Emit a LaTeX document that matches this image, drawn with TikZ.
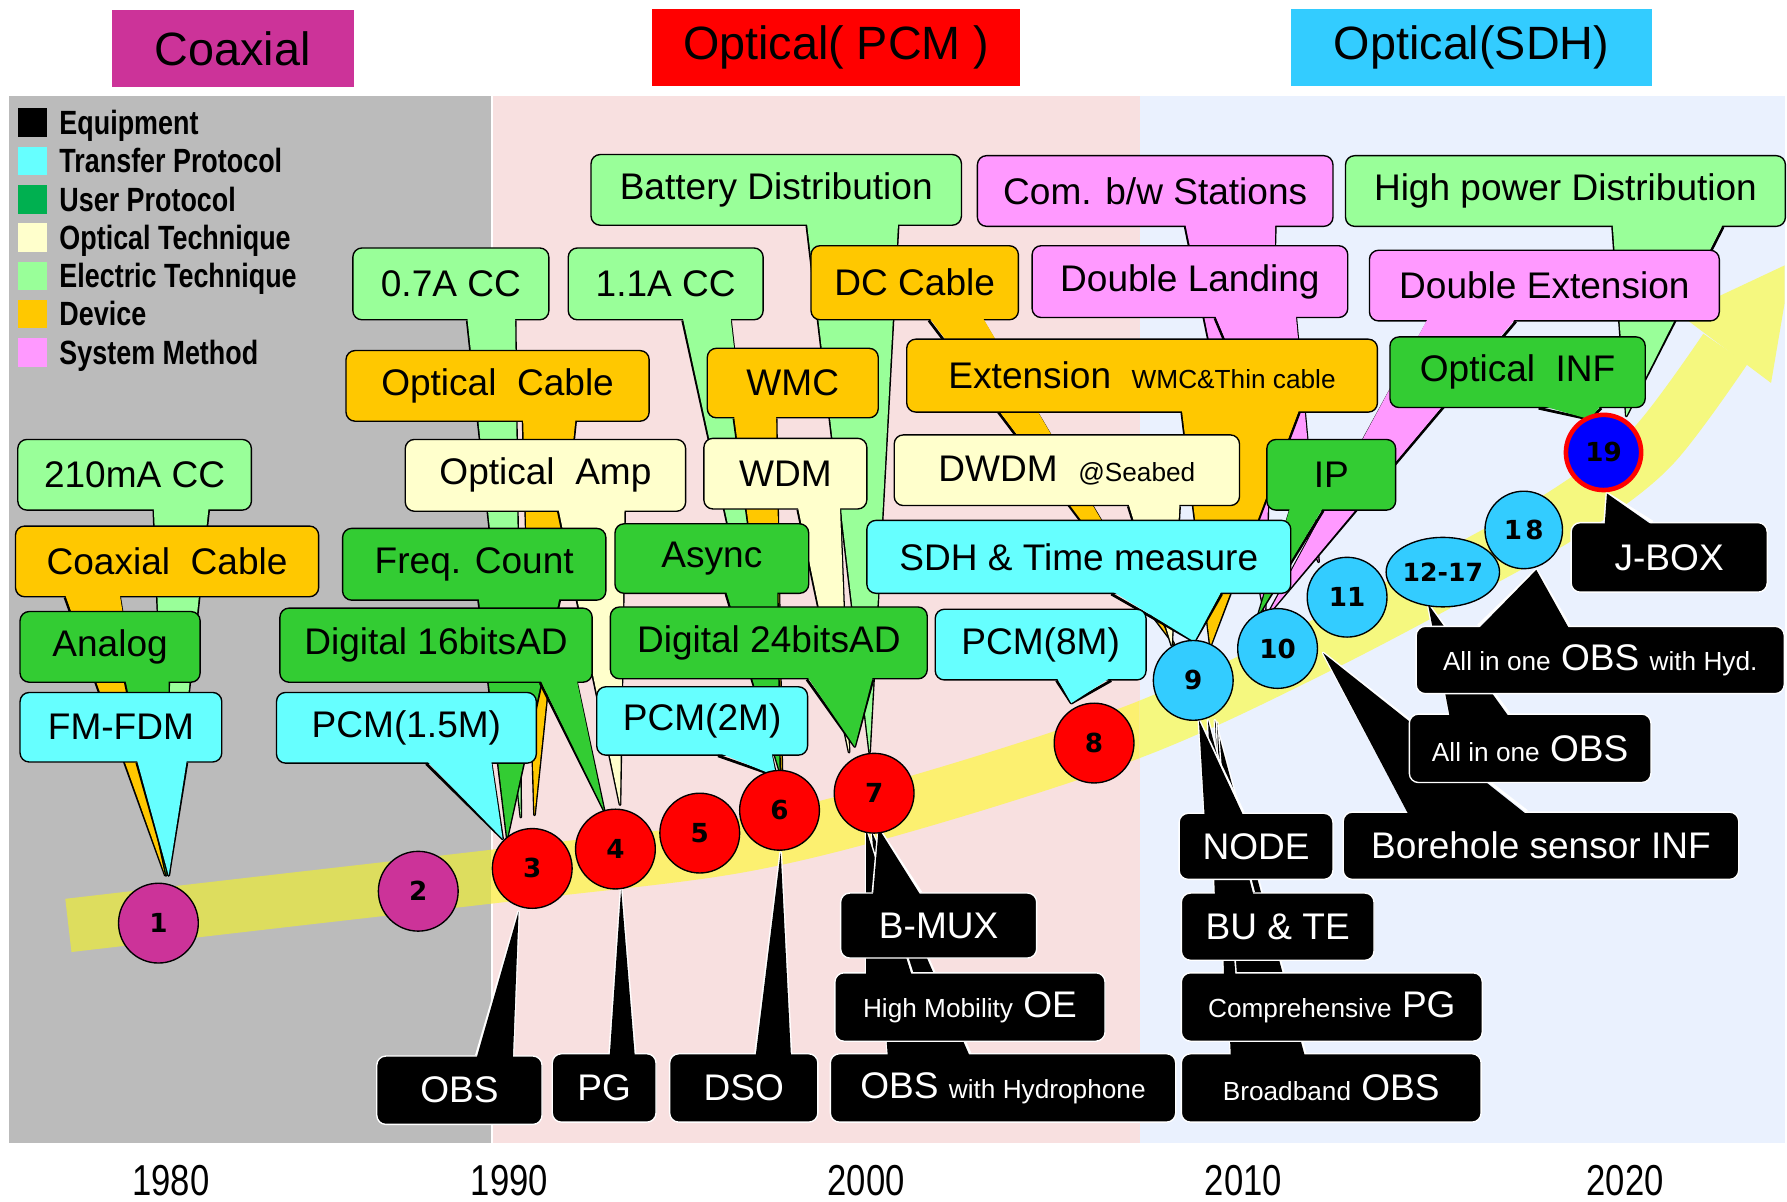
\documentclass[tikz,border=0pt]{standalone}
\usepackage{fontspec}
\setmainfont{Liberation Sans}
\newfontfamily\legfont[FakeStretch=0.8]{Liberation Sans}
\newfontfamily\numfont{DejaVu Sans}
\usetikzlibrary{shapes.geometric}
\definecolor{lg}{HTML}{99FF99}
\definecolor{og}{HTML}{FFC800}
\definecolor{ug}{HTML}{33CC33}
\definecolor{cy}{HTML}{66FFFF}
\definecolor{cr}{HTML}{FFFFCC}
\definecolor{pk}{HTML}{FF99FF}
\definecolor{mg}{HTML}{CC3399}
\definecolor{sk}{HTML}{33CCFF}
\definecolor{bgg}{HTML}{BBBBBB}
\definecolor{bgp}{HTML}{F8E0E0}
\definecolor{bgb}{HTML}{EAF1FE}
\definecolor{legug}{HTML}{00B050}
\definecolor{bandg}{HTML}{DDDD5E}
\definecolor{bandp}{HTML}{FCF070}
\definecolor{bandb}{HTML}{F5F87F}
\newcommand\sm{\fontsize{23}{26}\selectfont}
\newcommand\calltail[5]{%
  \draw[tedge] ([xshift=#2pt]#1.south west) -- (#4) -- ([xshift=#3pt]#1.south west);
  \fill[#5] ([xshift=#2pt,yshift=3pt]#1.south west) -- (#4) -- ([xshift=#3pt,yshift=3pt]#1.south west) -- cycle;}
\newcommand\eqtail[4]{%
  \draw[kedge] ([xshift=#2pt]#1.north west) -- (#4) -- ([xshift=#3pt]#1.north west);
  \fill[black] ([xshift=#2pt,yshift=-3pt]#1.north west) -- (#4) -- ([xshift=#3pt,yshift=-3pt]#1.north west) -- cycle;}
\tikzset{
  cbox/.style={draw=black, line width=1.2pt, rounded corners=8pt, inner sep=0pt, anchor=north west, font=\fontsize{32.5}{36}\selectfont},
  kbox/.style={draw=white, fill=black, text=white, line width=1.2pt, rounded corners=8pt, inner sep=0pt, anchor=north west, font=\fontsize{32.5}{36}\selectfont},
  tedge/.style={draw=black, line width=2.4pt, line join=round},
  kedge/.style={draw=white, line width=2.4pt, line join=round},
  num/.style={circle, draw=black, line width=1.2pt, minimum size=70pt, inner sep=0pt, font=\numfont\bfseries\fontsize{23}{25}\selectfont},
  hdr/.style={minimum height=67pt, inner sep=0pt, anchor=north west, font=\fontsize{41}{45}\selectfont},
  yr/.style={anchor=base, inner sep=0pt, font=\legfont\fontsize{38}{40}\selectfont}
}
\begin{document}
\begin{tikzpicture}[x=1pt,y=-1pt]
\useasboundingbox (0,0) rectangle (1568,1054);
% backgrounds
\fill[bgg] (8,84) rectangle (431,1003);
\fill[bgp] (433,84) rectangle (1000,1003);
\fill[bgb] (1000,84) rectangle (1566,1003);
% headers
\node[hdr, fill=mg, minimum width=212pt] (hcoax) at (98,9) {Coaxial};
\node[hdr, fill=red, minimum width=323pt] (hpcm) at (572,8) {Optical( PCM )};
\node[hdr, fill=sk, minimum width=316pt] (hsdh) at (1133,8) {Optical(SDH)};
% years
\node[yr] (y1980) at (150,1049) {1980};
\node[yr] (y1990) at (447,1049) {1990};
\node[yr] (y2000) at (760,1049) {2000};
\node[yr] (y2010) at (1091,1049) {2010};
\node[yr] (y2020) at (1426,1049) {2020};
% legend
\foreach \col/\txt [count=\i from 0] in {black/Equipment,cy/Transfer Protocol,legug/User Protocol,cr/Optical Technique,lg/Electric Technique,og/Device,pk/System Method}{
  \node[fill=\col, minimum size=25pt, inner sep=0pt, anchor=north west] (sq\i) at (16,{95+33.6*\i}) {};
  \node[anchor=base west, inner sep=0pt, font=\legfont\bfseries\fontsize{29.5}{31}\selectfont] (lt\i) at (52,{118+33.6*\i}) {\txt};
}
% yellow band
\foreach \xa/\xb/\col in {8/431/bandg,431/1000/bandp,1000/1566/bandb}{
  \begin{scope}
    \clip (\xa,84) rectangle (\xb,1003);
    \draw[\col, line width=47pt] plot[smooth, tension=0.55] coordinates {(60,812) (250,790) (467,765) (650,742) (807,703) (1000,640) (1160,566) (1300,492) (1380,446) (1450,392) (1514,306)};
    \fill[\col] (1474,276) -- (1572,230) -- (1554,336) -- cycle;
  \end{scope}
}
% tail tips
\coordinate (k-bat) at (763,660);
\coordinate (k-com) at (1110,540);
\coordinate (k-hpd) at (1427,365);
\coordinate (k-dcc) at (1030,565);
\coordinate (k-dla) at (1157,493);
\coordinate (k-a07) at (457,717);
\coordinate (k-a11) at (686,676);
\coordinate (k-dex) at (1112,540);
\coordinate (k-oinf) at (1395,368);
\coordinate (k-ext) at (1062,567);
\coordinate (k-wmc) at (686,676);
\coordinate (k-ocab) at (469,715);
\coordinate (k-dwdm) at (1028,566);
\coordinate (k-wdm) at (745,660);
\coordinate (k-m210) at (148,768);
\coordinate (k-oamp) at (544,706);
\coordinate (k-ip) at (1104,540);
\coordinate (k-sdh) at (1048,563);
\coordinate (k-asy) at (684,676);
\coordinate (k-ccab) at (145,768);
\coordinate (k-fcnt) at (445,735);
\coordinate (k-d24) at (750,655);
\coordinate (k-d16) at (530,711);
\coordinate (k-p8) at (940,617);
\coordinate (k-ana) at (146,768);
\coordinate (k-p2) at (681,681);
\coordinate (k-fm) at (148,768);
\coordinate (k-p15) at (441,736);
\coordinate (k-obs) at (455,800);
\coordinate (k-pg) at (545,780);
\coordinate (k-dso) at (685,748);
\coordinate (k-obh) at (765,730);
\coordinate (k-bbo) at (1066,632);
\coordinate (k-hmo) at (760,728);
\coordinate (k-cpg) at (1068,634);
\coordinate (k-bute) at (1060,632);
\coordinate (k-bmux) at (771,727);
\coordinate (k-node) at (1052,632);
\coordinate (k-bore) at (1161,573);
\coordinate (k-aio) at (1253,530);
\coordinate (k-aioh) at (1348,500);
\coordinate (k-jbox) at (1410,433);
% colored callouts
\node[cbox, fill=lg, minimum width=325pt, minimum height=62pt] (bat) at (518,135) {Battery Distribution};
\calltail{bat}{190}{270}{k-bat}{lg}
\node[cbox, fill=pk, minimum width=312pt, minimum height=62pt] (com) at (857,136) {Com. b/w Stations};
\calltail{com}{183}{262}{k-com}{pk}
\node[cbox, fill=lg, minimum width=386pt, minimum height=62pt] (hpd) at (1180,136) {High power Distribution};
\calltail{hpd}{235}{332}{k-hpd}{lg}
\node[cbox, fill=og, minimum width=182pt, minimum height=65pt] (dcc) at (711,215) {DC Cable};
\calltail{dcc}{104}{151}{k-dcc}{og}
\node[cbox, fill=pk, minimum width=277pt, minimum height=63pt] (dla) at (905,215) {Double Landing};
\calltail{dla}{161}{232}{k-dla}{pk}
\node[cbox, fill=lg, minimum width=172pt, minimum height=63pt] (a07) at (309,217) {0.7A CC};
\calltail{a07}{101}{143}{k-a07}{lg}
\node[cbox, fill=lg, minimum width=171pt, minimum height=63pt] (a11) at (498,217) {1.1A CC};
\calltail{a11}{101}{143}{k-a11}{lg}
\node[cbox, fill=pk, minimum width=307pt, minimum height=62pt] (dex) at (1201,219) {Double Extension};
\calltail{dex}{52}{129}{k-dex}{pk}
\node[cbox, fill=ug, minimum width=224pt, minimum height=62pt] (oinf) at (1219,295) {Optical\ \ INF};
\calltail{oinf}{131}{186}{k-oinf}{ug}
\node[cbox, fill=og, minimum width=413pt, minimum height=64pt] (ext) at (795,297) {Extension\ \ {\sm WMC\&Thin cable}};
\calltail{ext}{242}{345}{k-ext}{og}
\node[cbox, fill=og, minimum width=150pt, minimum height=61pt] (wmc) at (620,305) {WMC};
\calltail{wmc}{24}{61}{k-wmc}{og}
\node[cbox, fill=og, minimum width=266pt, minimum height=62pt] (ocab) at (303,307) {Optical\ \ Cable};
\calltail{ocab}{156}{202}{k-ocab}{og}
\node[cbox, fill=cr, minimum width=303pt, minimum height=62pt] (dwdm) at (784,381) {DWDM\ \ {\sm @Seabed}};
\calltail{dwdm}{206}{251}{k-dwdm}{cr}
\node[cbox, fill=cr, minimum width=143pt, minimum height=62pt] (wdm) at (617,384) {WDM};
\calltail{wdm}{83}{120}{k-wdm}{cr}
\node[cbox, fill=lg, minimum width=205pt, minimum height=62pt] (m210) at (15,385) {210mA CC};
\calltail{m210}{120}{168}{k-m210}{lg}
\node[cbox, fill=cr, minimum width=246pt, minimum height=63pt] (oamp) at (355,385) {Optical\ \ Amp};
\calltail{oamp}{135}{193}{k-oamp}{cr}
\node[cbox, fill=ug, minimum width=113pt, minimum height=62pt] (ip) at (1111,385) {IP};
\calltail{ip}{21}{50}{k-ip}{ug}
\node[cbox, fill=cy, minimum width=372pt, minimum height=64pt] (sdh) at (760,456) {SDH \& Time measure};
\calltail{sdh}{215}{312}{k-sdh}{cy}
\node[cbox, fill=ug, minimum width=170pt, minimum height=61pt] (asy) at (539,459) {Async};
\calltail{asy}{98}{143}{k-asy}{ug}
\node[cbox, fill=og, minimum width=266pt, minimum height=62pt] (ccab) at (13,461) {Coaxial\ \ Cable};
\calltail{ccab}{44}{92}{k-ccab}{og}
\node[cbox, fill=ug, minimum width=231pt, minimum height=63pt] (fcnt) at (300,463) {Freq. Count};
\calltail{fcnt}{120}{191}{k-fcnt}{ug}
\node[cbox, fill=ug, minimum width=278pt, minimum height=63pt] (d24) at (535,532) {Digital 24bitsAD};
\calltail{d24}{173}{231}{k-d24}{ug}
\node[cbox, fill=ug, minimum width=274pt, minimum height=65pt] (d16) at (245,533) {Digital 16bitsAD};
\calltail{d16}{229}{261}{k-d16}{ug}
\node[cbox, fill=cy, minimum width=185pt, minimum height=62pt] (p8) at (820,534) {PCM(8M)};
\calltail{p8}{107}{155}{k-p8}{cy}
\node[cbox, fill=ug, minimum width=158pt, minimum height=62pt] (ana) at (17,536) {Analog};
\calltail{ana}{93}{131}{k-ana}{ug}
\node[cbox, fill=cy, minimum width=185pt, minimum height=60pt] (p2) at (523,602) {PCM(2M)};
\calltail{p2}{107}{154}{k-p2}{cy}
\node[cbox, fill=cy, minimum width=177pt, minimum height=61pt] (fm) at (17,607) {FM-FDM};
\calltail{fm}{103}{147}{k-fm}{cy}
\node[cbox, fill=cy, minimum width=228pt, minimum height=62pt] (p15) at (242,607) {PCM(1.5M)};
\calltail{p15}{132}{189}{k-p15}{cy}
% equipment callouts
\node[kbox, minimum width=145pt, minimum height=60pt] (obs) at (330,926) {OBS};
\eqtail{obs}{88}{120}{k-obs}
\node[kbox, minimum width=91pt, minimum height=60pt] (pg) at (484,924) {PG};
\eqtail{pg}{51}{73}{k-pg}
\node[kbox, minimum width=130pt, minimum height=60pt] (dso) at (587,924) {DSO};
\eqtail{dso}{76}{107}{k-dso}
\node[kbox, minimum width=303pt, minimum height=60pt] (obh) at (728,924) {OBS {\sm with Hydrophone}};
\eqtail{obh}{51}{123}{k-obh}
\node[kbox, minimum width=263pt, minimum height=60pt] (bbo) at (1036,924) {{\sm Broadband} OBS};
\eqtail{bbo}{44}{109}{k-bbo}
\node[kbox, minimum width=237pt, minimum height=60pt] (hmo) at (732,853) {{\sm High Mobility} OE};
\eqtail{hmo}{28}{68}{k-hmo}
\node[kbox, minimum width=264pt, minimum height=60pt] (cpg) at (1036,853) {{\sm Comprehensive} PG};
\eqtail{cpg}{38}{48}{k-cpg}
\node[kbox, minimum width=169pt, minimum height=59pt] (bute) at (1036,783) {BU \& TE};
\eqtail{bute}{30}{64}{k-bute}
\node[kbox, minimum width=172pt, minimum height=57pt] (bmux) at (737,783) {B-MUX};
\eqtail{bmux}{29}{71}{k-bmux}
\node[kbox, minimum width=135pt, minimum height=58pt] (node) at (1034,713) {NODE};
\eqtail{node}{23}{57}{k-node}
\node[kbox, minimum width=347pt, minimum height=59pt] (bore) at (1178,712) {Borehole sensor INF};
\eqtail{bore}{58}{162}{k-bore}
\node[kbox, minimum width=212pt, minimum height=60pt] (aio) at (1236,626) {{\sm All in one} OBS};
\eqtail{aio}{36}{88}{k-aio}
\node[kbox, minimum width=323pt, minimum height=59pt] (aioh) at (1242,549) {{\sm All in one} OBS {\sm with Hyd.}};
\eqtail{aioh}{55}{135}{k-aioh}
\node[kbox, minimum width=172pt, minimum height=61pt] (jbox) at (1378,458) {J-BOX};
\eqtail{jbox}{30}{72}{k-jbox}
% circles
\node[num, fill=mg] (c1) at (139,810) {1};
\node[num, fill=mg] (c2) at (367,782) {2};
\node[num, fill=red] (c3) at (467,762) {3};
\node[num, fill=red] (c4) at (540,745) {4};
\node[num, fill=red] (c5) at (614,731) {5};
\node[num, fill=red] (c6) at (684,711) {6};
\node[num, fill=red] (c7) at (767,696) {7};
\node[num, fill=red] (c8) at (960,652) {8};
\node[num, fill=sk] (c9) at (1047,597) {9};
\node[num, fill=sk] (c10) at (1121,569) {10};
\node[num, fill=sk] (c11) at (1182,524) {11};
\node[num, fill=sk, ellipse, minimum width=96pt, minimum height=61pt, font=\numfont\bfseries\fontsize{22}{24}\selectfont] (c1217) at (1266,502) {12-17};
\node[num, fill=sk, minimum size=68pt] (c18) at (1337,465) {1\hspace{3pt}8};
\node[num, fill=blue, draw=red, line width=4pt, minimum size=66pt] (c19) at (1407,397) {19};
\end{tikzpicture}
\end{document}
